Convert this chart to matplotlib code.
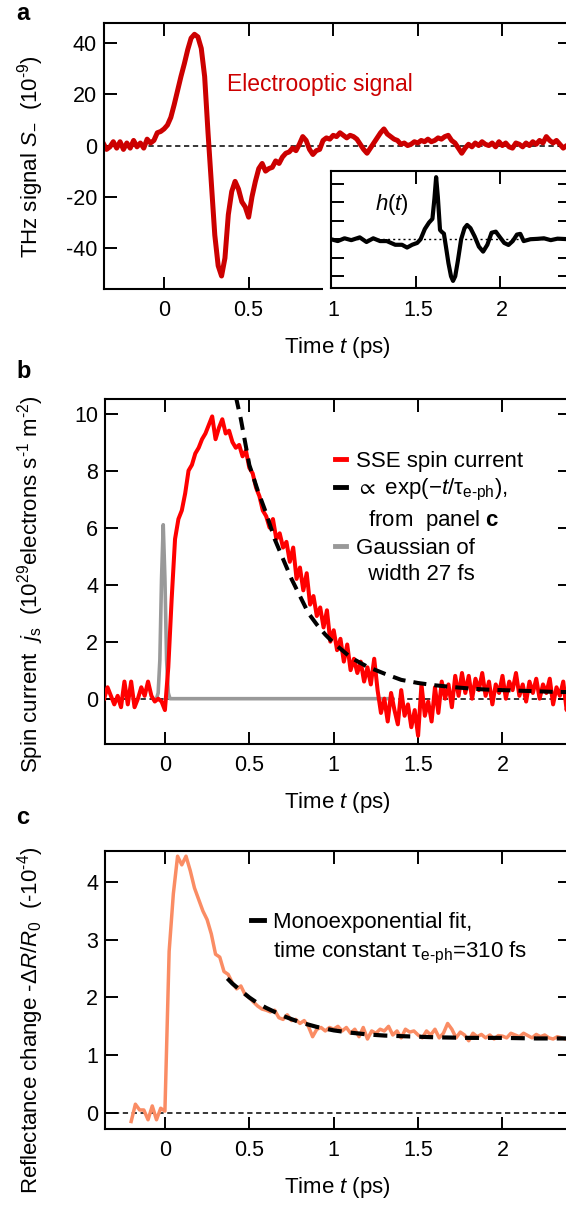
import numpy as np
import matplotlib
matplotlib.use("Agg")
import matplotlib.pyplot as plt
from matplotlib.lines import Line2D
from matplotlib.patches import Rectangle

plt.rcParams['font.family'] = ['Liberation Sans', 'DejaVu Sans']
plt.rcParams['mathtext.fontset'] = 'custom'
plt.rcParams['mathtext.rm'] = 'Liberation Sans'
plt.rcParams['mathtext.it'] = 'Liberation Sans:italic'
plt.rcParams['mathtext.bf'] = 'Liberation Sans:bold'
plt.rcParams['mathtext.fallback'] = 'stixsans'
plt.rcParams['axes.unicode_minus'] = False
plt.rcParams['lines.scale_dashes'] = False

# ---- panel a: electrooptic signal (1e-9), sampled every 20 fs from -0.36 ps
eo_t0, eo_dt = -0.36, 0.02
eo_signal = [
    1.0, -1.5, -0.5, 1.5, -1.0, 1.5, -1.5, 1.0, -1.0, 2.0,
    -0.5, 1.0, -1.0, 2.5, 1.0, 2.0, 5.0, 5.5, 6.5, 8.0,
    11.0, 16.0, 21.5, 27.0, 32.0, 37.5, 42.0, 43.5, 42.5, 38.0,
    27.0, 5.0, -15.0, -35.0, -47.0, -51.0, -44.0, -27.0, -18.0, -14.0,
    -17.0, -22.0, -24.0, -28.0, -20.0, -14.0, -9.0, -7.0, -10.0, -9.0,
    -8.5, -6.0, -7.0, -4.5, -3.0, -2.5, -1.0, -2.0, 0.5, 3.5,
    2.0, -1.5, -3.5, -2.0, -1.5, 2.0, 3.0, 2.5, 4.0, 3.5,
    5.0, 4.0, 3.0, 4.0, 3.5, 2.5, 0.5, -1.5, -3.0, -1.0,
    1.0, 3.0, 5.0, 6.5, 4.5, 3.5, 2.5, 2.0, 0.5, 1.0,
    0.0, 0.5, 1.5, 1.0, 2.0, 1.5, 2.5, 1.5, 2.0, 3.0,
    2.5, 3.5, 4.0, 2.0, 1.0, -1.0, -3.0, -1.0, 0.5, -0.5,
    1.0, 0.0, 1.5, 0.5, 0.0, 1.0, -0.5, 1.5, 0.0, 1.0,
    -0.5, -1.0, 1.0, 0.5, -0.5, 1.0, 0.0, 1.5, 0.5, 2.0,
    1.0, 3.5, 2.0, 1.0, 2.0, 0.5, -1.0, 0.0, -0.5,
]

# inset: response function h(t)
h_time = [1.0, 1.04, 1.08, 1.12, 1.17, 1.21, 1.25, 1.29, 1.33, 1.38,
          1.42, 1.45, 1.48, 1.51, 1.53, 1.555, 1.58, 1.60, 1.612, 1.622,
          1.632, 1.645, 1.655, 1.668, 1.68, 1.695, 1.71, 1.722, 1.735, 1.75,
          1.77, 1.79, 1.805, 1.825, 1.85, 1.875, 1.9, 1.925, 1.95, 1.975,
          2.0, 2.025, 2.05, 2.075, 2.1, 2.12, 2.14, 2.18, 2.22, 2.26,
          2.3, 2.34, 2.41]
h_value = [0.0, -0.1, 0.05, -0.05, 0.1, -0.15, 0.05, -0.1, -0.1, -0.3,
           -0.3, -0.45, -0.3, -0.2, 0.0, 0.55, 0.9, 1.1, 2.2, 3.35,
           2.3, 0.5, 0.4, 0.3, -0.4, -1.3, -2.0, -2.25, -2.0, -1.2,
           0.0, 0.6, 0.77, 0.6, 0.15, -0.4, -0.67, -0.3, 0.35, 0.41,
           0.1, -0.2, -0.31, -0.1, 0.25, 0.29, -0.1, 0.0, 0.02, 0.05,
           -0.05, 0.03, 0.0]

# ---- panel b: SSE spin current (1e29 e s^-1 m^-2), every 20 fs from -0.36 ps
js_t0, js_dt = -0.36, 0.02
js_current = [
    0.0, 0.4, 0.1, -0.2, 0.1, -0.3, 0.6, -0.2, 0.6, -0.3,
    0.0, 0.4, 0.1, 0.6, 0.1, -0.1, 0.0, -0.1, -0.4, 1.1,
    3.5, 5.6, 6.3, 6.6, 7.2, 8.0, 8.2, 8.6, 8.8, 9.1,
    9.3, 9.6, 9.9, 9.1, 9.5, 9.8, 9.3, 9.4, 9.0, 8.8,
    8.9, 8.5, 8.7, 8.1, 7.9, 7.4, 7.1, 6.6, 6.4, 6.0,
    6.3, 5.6, 5.8, 5.3, 5.5, 4.8, 5.3, 4.2, 4.6, 3.8,
    4.4, 3.3, 3.6, 2.9, 3.2, 2.5, 3.1, 2.0, 2.4, 1.7,
    2.1, 1.3, 1.9, 1.0, 1.4, 0.9, 1.3, 0.6, 1.1, 0.5,
    1.4, 0.3, -0.5, 0.0, -0.8, 0.2, -0.4, -0.9, 0.3, -0.6,
    -0.2, -1.0, -0.4, -1.3, 0.5, -0.6, -0.1, -0.8, 0.4, -0.5,
    0.6, 0.0, 0.5, -0.3, 0.8, 0.1, 0.9, 0.2, 0.8, 0.0,
    0.7, 0.3, 0.9, 0.1, 0.6, -0.2, 0.5, 0.2, 0.8, 0.0,
    0.6, 0.3, 0.9, 0.1, 0.5, -0.1, 0.6, 0.2, 0.7, 0.0,
    0.5, 0.2, 0.7, -0.2, 0.4, 0.1, 0.6, -0.4, 0.2,
]
exp_b_time = [0.42, 0.45, 0.5, 0.55, 0.6, 0.65, 0.7, 0.75, 0.8, 0.85,
              0.9, 0.95, 1.0, 1.05, 1.1, 1.15, 1.2, 1.3, 1.4, 1.5,
              1.6, 1.7, 1.8, 1.9, 2.0, 2.1, 2.2, 2.3, 2.41]
exp_b_value = [10.6, 9.8, 8.2, 7.3, 6.5, 5.6, 4.9, 4.2, 3.6, 3.0,
               2.6, 2.25, 1.95, 1.7, 1.45, 1.28, 1.12, 0.88, 0.66, 0.55,
               0.47, 0.41, 0.36, 0.32, 0.3, 0.28, 0.26, 0.24, 0.23]
gauss_time = [-0.05, -0.04, -0.03, -0.02, -0.01, 0.0, 0.01, 0.02, 0.03, 1.35]
gauss_value = [0.0, 0.2, 1.35, 4.2, 6.1, 4.2, 1.35, 0.2, 0.0, 0.0]

# ---- panel c: reflectance change (-1e-4), every 25 fs from -0.2 ps
dr_t0, dr_dt = -0.2, 0.025
dr_signal = [
    -0.15, 0.15, 0.05, 0.05, -0.12, 0.12, -0.12, 0.08, 0.03, 2.8,
    3.8, 4.45, 4.3, 4.45, 4.2, 3.9, 3.7, 3.5, 3.35, 3.1,
    2.75, 2.7, 2.45, 2.4, 2.25, 2.15, 2.2, 2.05, 2.0, 1.92,
    1.85, 1.8, 1.78, 1.75, 1.78, 1.65, 1.62, 1.7, 1.6, 1.62,
    1.55, 1.6, 1.5, 1.32, 1.45, 1.48, 1.42, 1.48, 1.45, 1.5,
    1.42, 1.48, 1.38, 1.45, 1.32, 1.48, 1.28, 1.42, 1.38, 1.45,
    1.42, 1.5, 1.35, 1.42, 1.3, 1.45, 1.4, 1.42, 1.35, 1.3,
    1.42, 1.35, 1.45, 1.3, 1.38, 1.55, 1.45, 1.3, 1.4, 1.35,
    1.25, 1.38, 1.32, 1.36, 1.3, 1.35, 1.28, 1.34, 1.33, 1.3,
    1.38, 1.35, 1.32, 1.38, 1.34, 1.3, 1.36, 1.32, 1.35, 1.3,
    1.28, 1.32, 1.3, 1.28, 1.3,
]
fit_c_time = [0.37, 0.4, 0.45, 0.5, 0.55, 0.6, 0.7, 0.8, 0.9, 1.0,
              1.1, 1.2, 1.3, 1.4, 1.5, 1.6, 1.8, 2.0, 2.2, 2.41]
fit_c_value = [2.33, 2.24, 2.12, 2.0, 1.9, 1.82, 1.68, 1.57, 1.49, 1.43,
               1.39, 1.36, 1.34, 1.33, 1.32, 1.31, 1.3, 1.3, 1.29, 1.29]

time_ticks = [0, 0.5, 1, 1.5, 2]
time_ticklabels = ['0', '0.5', '1', '1.5', '2']
XLIM = (-0.355, 2.40)
FS = 15.5


def style_axes(ax, pad=8):
    for s in ax.spines.values():
        s.set_linewidth(1.5)
    ax.tick_params(direction='in', length=9, width=1.4, top=True, right=True,
                   labelsize=FS, pad=pad)
    ax.tick_params(axis='y', pad=5)


def zero_line(ax, lw=1.1):
    ax.axhline(0, color='black', lw=lw, dashes=(3.8, 2.6), zorder=1)


W, H = 566, 1205
fig = plt.figure(figsize=(W / 100, H / 100), dpi=100)


def px_axes(x0, y0, x1, y1, **kw):
    return fig.add_axes([x0 / W, 1 - y1 / H, (x1 - x0) / W, (y1 - y0) / H], **kw)


# ---------------- panel a
ax_a = px_axes(104, 23.3, 570, 289.3)
ax_a.set_zorder(1)
eo_time = eo_t0 + eo_dt * np.arange(len(eo_signal))
zero_line(ax_a)
ax_a.plot(eo_time, eo_signal, color='#CC0000', lw=3.6, solid_joinstyle='round', zorder=2)
ax_a.set_xlim(XLIM)
ax_a.set_ylim(-56.2, 47.8)
ax_a.set_yticks([-40, -20, 0, 20, 40])
ax_a.set_xticks(time_ticks)
ax_a.set_xticklabels(time_ticklabels)
style_axes(ax_a)
ax_a.text(0.375, 24, 'Electrooptic signal', color='#CC0000', fontsize=16.5, va='center')
ax_a.set_ylabel('THz signal $S_{-}$  (10$^{\\text{-}9}$)', fontsize=16)
ax_a.yaxis.set_label_coords(-0.125, 0.5)
ax_a.set_xlabel('Time $t$ (ps)', fontsize=16, labelpad=10)

# white margin around inset, then the inset itself
fig.patches.append(Rectangle((323 / W, 1 - 292 / H), 250 / W, 125 / H,
                             transform=fig.transFigure, fc='white', ec='none', zorder=2))
ax_in = px_axes(331, 170.7, 570, 288.3)
ax_in.set_zorder(3)
ax_in.axhline(0, color='black', lw=1.0, dashes=(1.5, 2.2), zorder=1)
ax_in.plot(h_time, h_value, color='black', lw=3.0, solid_joinstyle='round', zorder=2)
ax_in.set_xlim(1.0, 2.414)
ax_in.set_ylim(-2.65, 3.7)
ax_in.set_xticks([1.5, 2])
ax_in.set_yticks([-2, -1, 0, 1, 2, 3])
style_axes(ax_in)
ax_in.tick_params(labelbottom=False, labelleft=False)
ax_in.text(1.26, 1.85, '$h$($t$)', fontsize=16, va='center')

# ---------------- panel b
ax_b = px_axes(105, 399.3, 570, 744.3)
js_time = js_t0 + js_dt * np.arange(len(js_current))
zero_line(ax_b)
ax_b.plot(gauss_time, gauss_value, color='#999999', lw=2.6, zorder=2)
ax_b.plot(js_time, js_current, color='#FF0000', lw=2.9, solid_joinstyle='round', zorder=3)
ax_b.plot(exp_b_time, exp_b_value, color='black', lw=2.9, dashes=(9.4, 5.8), zorder=4)
ax_b.set_xlim(XLIM)
ax_b.set_ylim(-1.6, 10.5)
ax_b.set_yticks([0, 2, 4, 6, 8, 10])
ax_b.set_xticks(time_ticks)
ax_b.set_xticklabels(time_ticklabels)
style_axes(ax_b)
ax_b.set_ylabel('Spin current  $j_\\mathrm{s}$  (10$^{29}$electrons s$^{\\text{-}1}$ m$^{\\text{-}2}$)',
                fontsize=16)
ax_b.yaxis.set_label_coords(-0.127, 0.465)
ax_b.set_xlabel('Time $t$ (ps)', fontsize=16, labelpad=10)

blank = Line2D([], [], color='none')
handles_b = [Line2D([], [], color='#FF0000', lw=3.5),
             Line2D([], [], color='black', lw=3.5),
             blank,
             Line2D([], [], color='#999999', lw=3.5),
             blank]
labels_b = ['SSE spin current',
            '${\\propto}$ exp(\u2212$t$/\u03c4$_\\mathrm{e\\text{-}ph}$),',
            '  from  panel $\\mathbf{c}$',
            'Gaussian of',
            '  width 27 fs']
ax_b.legend(handles_b, labels_b, loc='upper left', bbox_to_anchor=(0.495, 0.85),
            frameon=False, fontsize=16, handlelength=0.5, handletextpad=0.45,
            labelspacing=0.22, borderpad=0, borderaxespad=0)

# ---------------- panel c
ax_c = px_axes(105, 851, 570, 1129)
dr_time = dr_t0 + dr_dt * np.arange(len(dr_signal))
zero_line(ax_c)
ax_c.plot(dr_time, dr_signal, color='#FA8C64', lw=2.5, solid_joinstyle='round', zorder=2)
ax_c.plot(fit_c_time, fit_c_value, color='black', lw=3.0, dashes=(10, 6.5), zorder=3)
ax_c.set_xlim(XLIM)
ax_c.set_ylim(-0.28, 4.54)
ax_c.set_yticks([0, 1, 2, 3, 4])
ax_c.set_xticks(time_ticks)
ax_c.set_xticklabels(time_ticklabels)
style_axes(ax_c)
ax_c.set_ylabel('Reflectance change -\u0394$R$/$R_0$  (-10$^{\\text{-}4}$)', fontsize=16)
ax_c.yaxis.set_label_coords(-0.127, 0.39)
ax_c.set_xlabel('Time $t$ (ps)', fontsize=16, labelpad=10)

handles_c = [Line2D([], [], color='black', lw=3.5), blank]
labels_c = ['Monoexponential fit,',
            'time constant \u03c4$_\\mathrm{e\\text{-}ph}$=310 fs']
ax_c.legend(handles_c, labels_c, loc='upper left', bbox_to_anchor=(0.313, 0.78),
            frameon=False, fontsize=16, handlelength=0.6, handletextpad=0.4,
            labelspacing=0.3, borderpad=0, borderaxespad=0)

# panel letters
for letter, ypx in [('a', 13), ('b', 372), ('c', 818)]:
    fig.text(16 / W, 1 - ypx / H, letter, fontsize=17, fontweight='bold', va='center')

fig.savefig('out.png', dpi=100)
